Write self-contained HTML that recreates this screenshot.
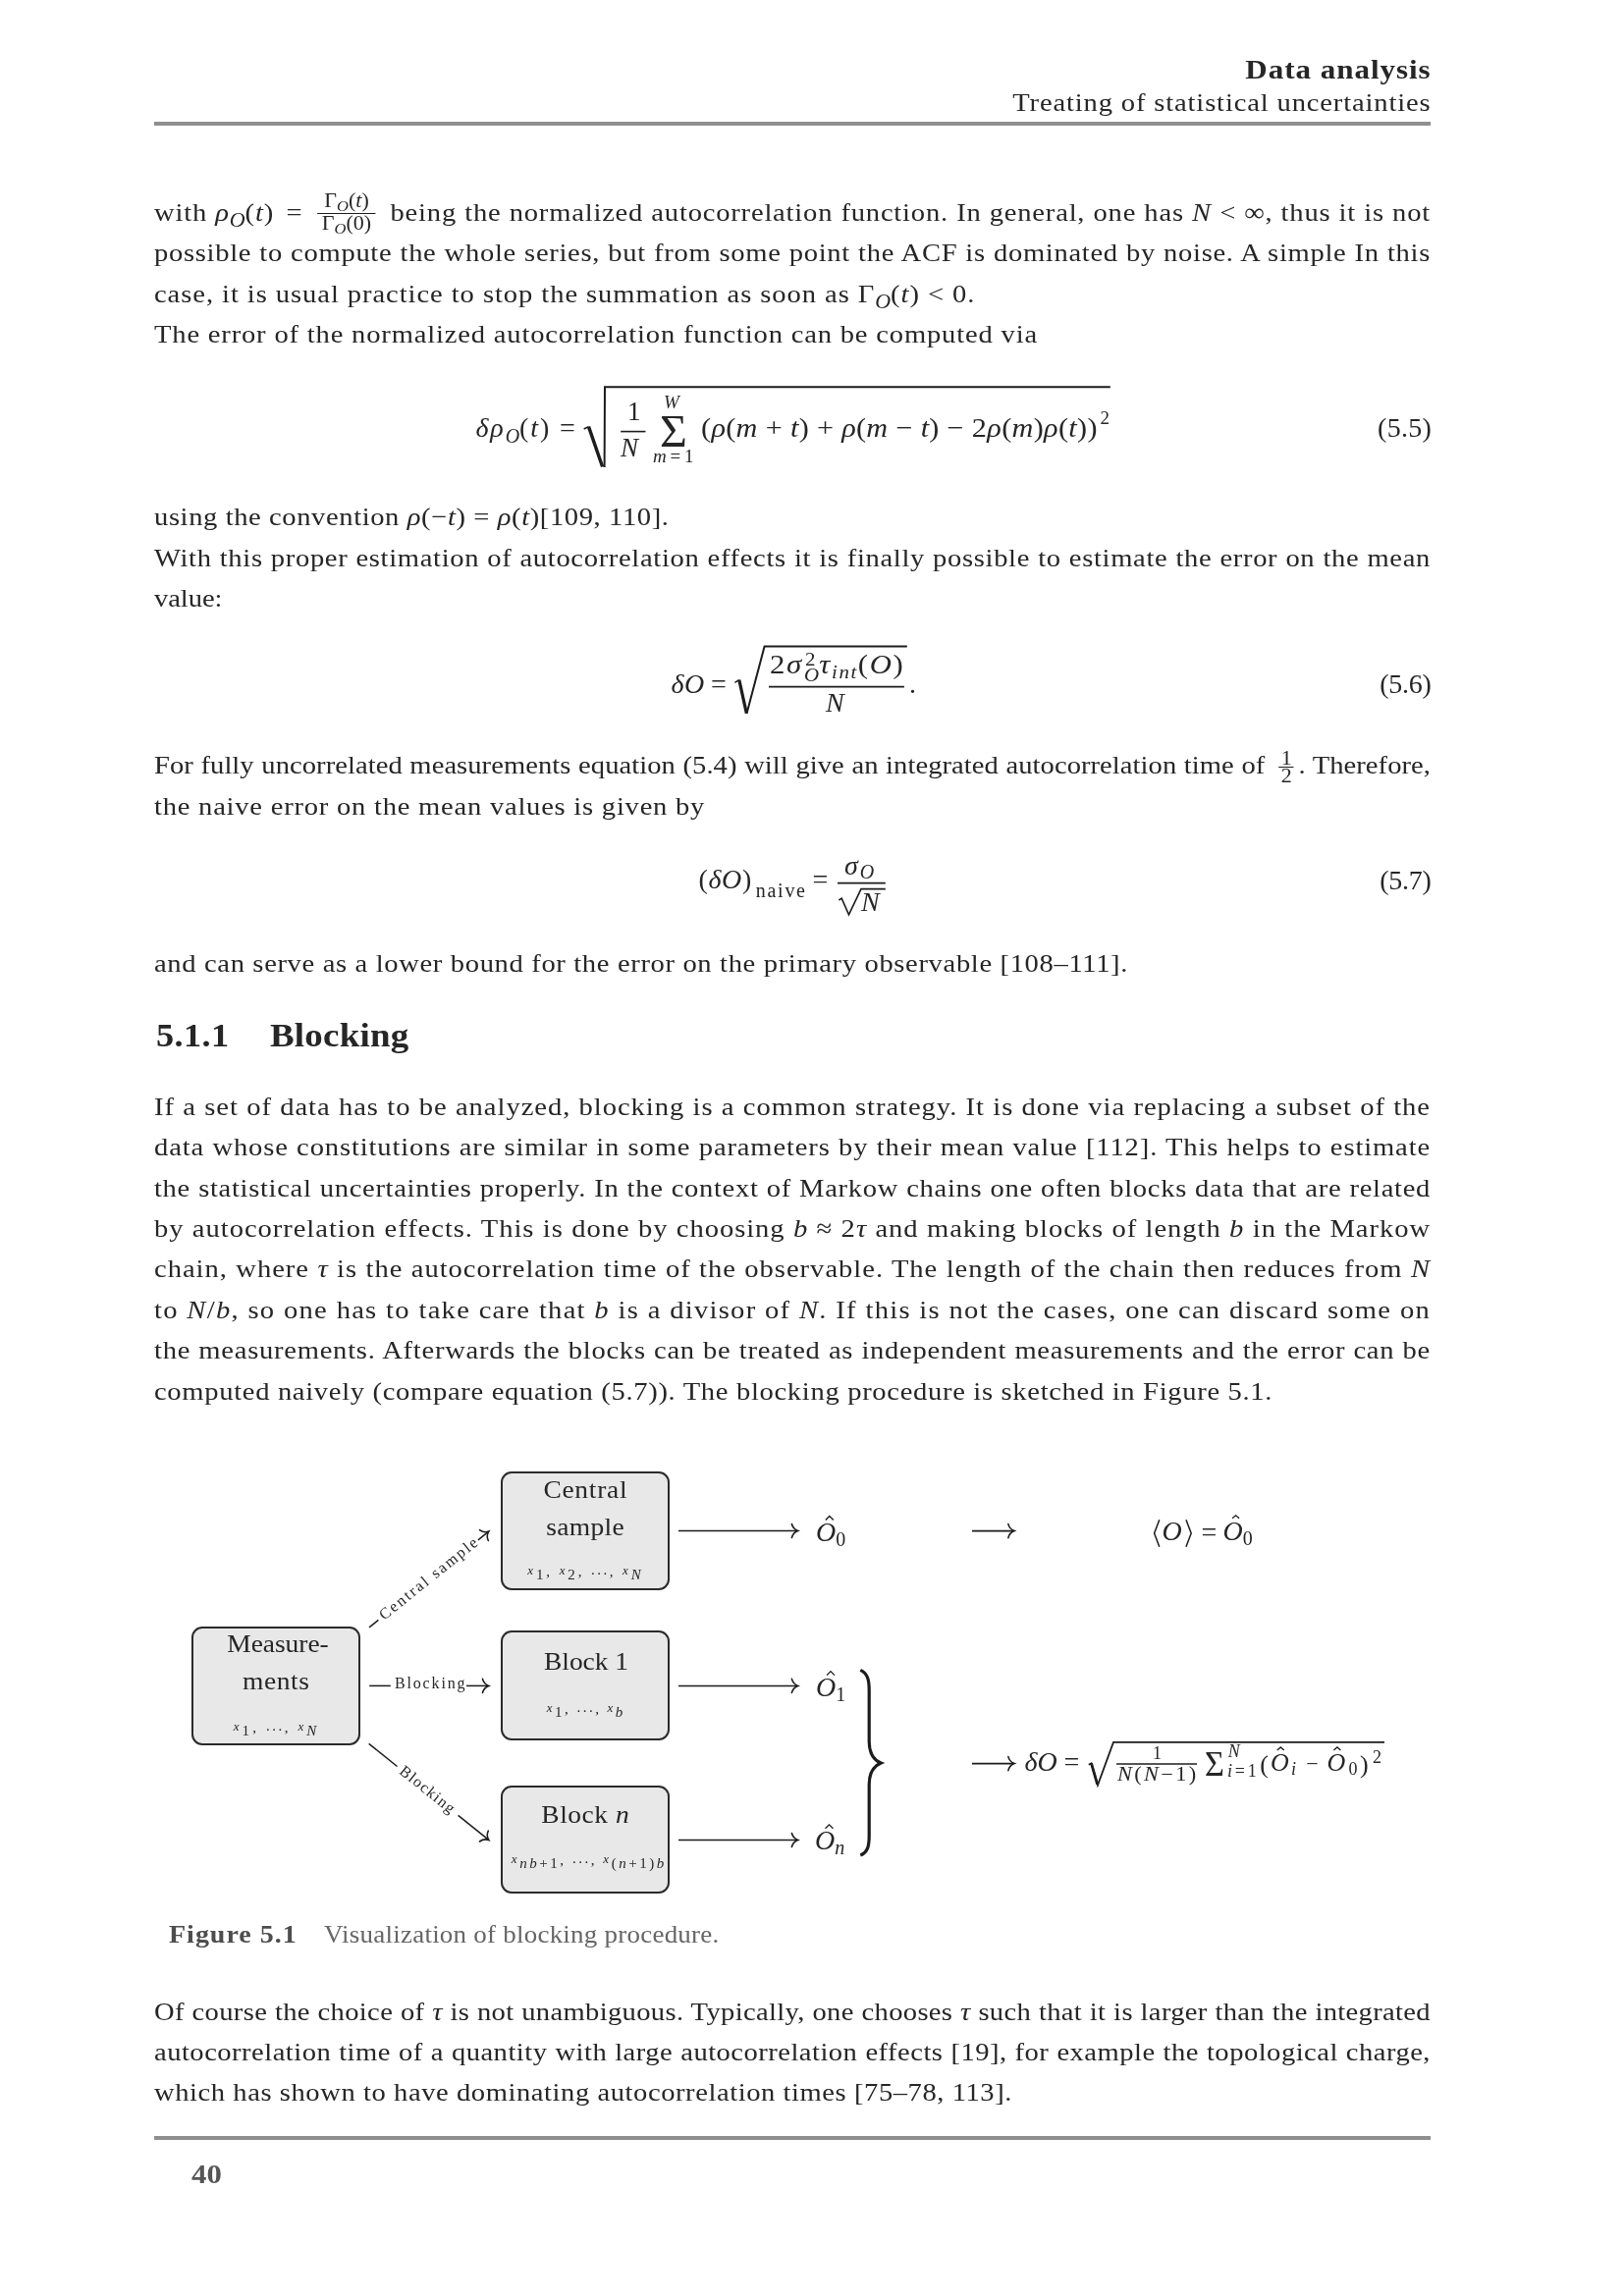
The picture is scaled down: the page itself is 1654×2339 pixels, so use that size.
<!DOCTYPE html><html><head><meta charset="utf-8"><style>
*{margin:0;padding:0}
html,body{background:#fff;width:1654px;height:2339px;overflow:hidden}
#pg{will-change:transform;position:relative;width:1654px;height:2339px;overflow:hidden;font-family:"Liberation Serif",serif;color:#262626}
.l{position:absolute;white-space:nowrap;line-height:0}
.j{white-space:normal;text-align:justify;text-align-last:justify}
i{font-style:italic}
.sb{font-size:20px;position:relative;top:6px;font-style:italic;letter-spacing:0}
.fr{display:inline-block;position:relative;height:0;vertical-align:baseline}
.fr>span{position:absolute;left:0;right:0;text-align:center;text-align-last:center;line-height:0;white-space:nowrap;letter-spacing:0}
.bar{position:absolute;left:0;right:0;background:#1c1c1c}
.box{position:absolute;box-sizing:border-box;border:2px solid #2b2b2b;border-radius:11px;background:#e8e8e8}
svg{position:absolute;left:0;top:0;overflow:visible}
</style></head><body><div id="pg">
<div class="l" id="e1" style="top:70.5px;right:197px;font-size:27px;letter-spacing:0.835px;margin-right:-0.835px;transform:scaleX(1.15);transform-origin:100% 0;"><b>Data analysis</b></div>
<div class="l" id="e2" style="top:105px;right:197px;font-size:26px;letter-spacing:0.761px;margin-right:-0.761px;transform:scaleX(1.1);transform-origin:100% 0;">Treating of statistical uncertainties</div>
<div style="position:absolute;left:157px;top:124px;width:1300px;height:4px;background:#8f8f8f"></div>
<div class="l j" id="e3" style="top:217px;left:157px;width:1181.82px;font-size:26px;letter-spacing:0.711px;transform:scaleX(1.1);transform-origin:0 0;">with <i>ρ</i><span class="sb">O</span>(<i>t</i>)<span style="margin-left:4px"> </span>= <span class="fr" style="width:54px;margin:0 6px 0 6px"><span style="top:-21px;font-size:20px">Γ<i style="font-size:15px;position:relative;top:4px">O</i>(<i>t</i>)</span><span class="bar" style="top:-8.2px;height:1.6px"></span><span style="top:2px;font-size:20px">Γ<i style="font-size:15px;position:relative;top:4px">O</i>(0)</span></span> being the normalized autocorrelation function. In general, one has <i>N</i> &lt; ∞, thus it is not</div>
<div class="l j" id="e4" style="top:258px;left:157px;width:1181.82px;font-size:26px;letter-spacing:0.624px;transform:scaleX(1.1);transform-origin:0 0;">possible to compute the whole series, but from some point the ACF is dominated by noise. A simple In this</div>
<div class="l" id="e5" style="top:299.8px;left:157px;font-size:26px;letter-spacing:0.835px;transform:scaleX(1.1);transform-origin:0 0;">case, it is usual practice to stop the summation as soon as Γ<span class="sb">O</span>(<i>t</i>) &lt; 0.</div>
<div class="l" id="e6" style="top:340.8px;left:157px;font-size:26px;letter-spacing:0.734px;transform:scaleX(1.1);transform-origin:0 0;">The error of the normalized autocorrelation function can be computed via</div>
<div class="l" id="e7" style="top:435.5px;left:484.4px;font-size:28px;letter-spacing:1.891px;"><i>δρ</i><span class="sb">O</span>(<i>t</i>) =</div>
<svg width="1654" height="2339"><path d="M594.7 437 L599.5 434.6" stroke="#1c1c1c" stroke-width="1.6" fill="none"/><path d="M599.5 434.6 L613.6 475.5" stroke="#1c1c1c" stroke-width="3.4" fill="none"/><path d="M615.6 476 L616 394.3 L1130.8 394.3" stroke="#1c1c1c" stroke-width="2" fill="none"/><path d="M632.2 439.6 L657.5 439.6" stroke="#1c1c1c" stroke-width="1.6" fill="none"/></svg>
<div class="l" id="e8" style="top:418.5px;left:639px;font-size:27px;">1</div>
<div class="l" id="e9" style="top:456.4px;left:632px;font-size:27px;"><i>N</i></div>
<div class="l" id="e10" style="top:438.8px;left:672px;font-size:47px;transform:scaleX(1.02);transform-origin:0 0">Σ</div>
<div class="l" id="e11" style="top:410px;left:676px;font-size:19px;"><i>W</i></div>
<div class="l" id="e12" style="top:465.4px;left:665px;font-size:19px;letter-spacing:3.773px;"><i>m</i>=1</div>
<div class="l" id="e13" style="top:435.5px;left:713.9px;font-size:28px;letter-spacing:0.289px;transform:scaleX(1.08);transform-origin:0 0;">(<i>ρ</i>(<i>m</i> + <i>t</i>) + <i>ρ</i>(<i>m</i> − <i>t</i>) − 2<i>ρ</i>(<i>m</i>)<i>ρ</i>(<i>t</i>))</div>
<div class="l" id="e14" style="top:426px;left:1120.5px;font-size:19px;">2</div>
<div class="l" id="e15" style="top:435.5px;right:196.1px;font-size:28px;letter-spacing:0.286px;margin-right:-0.286px;">(5.5)</div>
<div class="l" id="e16" style="top:526.7px;left:157px;font-size:26px;letter-spacing:0.532px;transform:scaleX(1.1);transform-origin:0 0;">using the convention <i>ρ</i>(−<i>t</i>) = <i>ρ</i>(<i>t</i>)[109, 110].</div>
<div class="l j" id="e17" style="top:568.5px;left:157px;width:1181.82px;font-size:26px;letter-spacing:0.593px;transform:scaleX(1.1);transform-origin:0 0;">With this proper estimation of autocorrelation effects it is finally possible to estimate the error on the mean</div>
<div class="l" id="e18" style="top:609.7px;left:157px;font-size:26px;letter-spacing:-0.069px;transform:scaleX(1.1);transform-origin:0 0;">value:</div>
<div class="l" id="e19" style="top:696.5px;left:683.4px;font-size:28px;letter-spacing:0.55px;"><i>δO</i></div>
<div class="l" id="e20" style="top:696.5px;left:724px;font-size:28px;">=</div>
<svg width="1654" height="2339"><path d="M748.4 695.4 L752.8 692.6" stroke="#1c1c1c" stroke-width="1.6" fill="none"/><path d="M752.8 692.6 L760.3 726.6" stroke="#1c1c1c" stroke-width="3.2" fill="none"/><path d="M760.5 727 L778.6 658.6 L923.8 658.6" stroke="#1c1c1c" stroke-width="2" fill="none"/><path d="M783 699.6 L920.9 699.6" stroke="#1c1c1c" stroke-width="1.6" fill="none"/></svg>
<div class="l" id="e21" style="top:677.2px;left:784px;font-size:28px;letter-spacing:1.463px;transform:scaleX(1.1);transform-origin:0 0;">2<i>σ</i><span style="display:inline-block;position:relative;width:15px;height:0"><span style="position:absolute;left:2px;top:-14px;font-size:19px;letter-spacing:0">2</span><i style="position:absolute;left:1px;top:2px;font-size:19px;letter-spacing:0">O</i></span><i>τ</i><i style="font-size:19px;position:relative;top:5px">int</i>(<i>O</i>)</div>
<div class="l" id="e22" style="top:716.3px;left:841px;font-size:28px;"><i>N</i></div>
<div class="l" id="e23" style="top:696.5px;left:926px;font-size:28px;">.</div>
<div class="l" id="e24" style="top:696.5px;right:196.1px;font-size:28px;letter-spacing:-0.239px;margin-right:0.239px;">(5.6)</div>
<div class="l j" id="e25" style="top:779.8px;left:157px;width:1181.82px;font-size:26px;letter-spacing:0.038px;transform:scaleX(1.1);transform-origin:0 0;">For fully uncorrelated measurements equation (5.4) will give an integrated autocorrelation time of <span class="fr" style="width:14px;margin:0 4px 0 6px"><span style="top:-16.3px;font-size:20px">1</span><span class="bar" style="top:-6.8px;height:1.4px"></span><span style="top:2.6px;font-size:20px">2</span></span>. Therefore,</div>
<div class="l" id="e26" style="top:821.6px;left:157px;font-size:26px;letter-spacing:0.684px;transform:scaleX(1.1);transform-origin:0 0;">the naive error on the mean values is given by</div>
<div class="l" id="e27" style="top:895.7px;left:711.5px;font-size:28px;letter-spacing:0.598px;">(<i>δO</i>)</div>
<div class="l" id="e28" style="top:906.5px;left:769.8px;font-size:20px;letter-spacing:1.722px;">naive</div>
<div class="l" id="e29" style="top:895.7px;left:827.5px;font-size:28px;">=</div>
<div class="l" id="e30" style="top:882px;left:860px;font-size:28px;"><i>σ</i><i style="font-size:20px;position:relative;top:4px;margin-left:2px">O</i></div>
<svg width="1654" height="2339"><path d="M853 899.6 L901.8 899.6" stroke="#1c1c1c" stroke-width="1.6" fill="none"/><path d="M854.4 917 L857.2 915.2 L864.5 931.8 L877 905.6 L901.8 905.6" stroke="#1c1c1c" stroke-width="1.6" fill="none"/></svg>
<div class="l" id="e31" style="top:918.7px;left:877px;font-size:28px;"><i>N</i></div>
<div class="l" id="e32" style="top:897px;right:196.1px;font-size:28px;letter-spacing:-0.239px;margin-right:0.239px;">(5.7)</div>
<div class="l" id="e33" style="top:982.1px;left:157px;font-size:26px;letter-spacing:0.578px;transform:scaleX(1.1);transform-origin:0 0;">and can serve as a lower bound for the error on the primary observable [108–111].</div>
<div class="l" id="e34" style="top:1054.9px;left:158.6px;font-size:33px;letter-spacing:0.378px;transform:scaleX(1.1);transform-origin:0 0;"><b>5.1.1</b></div>
<div class="l" id="e35" style="top:1054.9px;left:275px;font-size:33px;letter-spacing:0.193px;transform:scaleX(1.12);transform-origin:0 0;"><b>Blocking</b></div>
<div class="l j" id="e36" style="top:1128px;left:157px;width:1181.82px;font-size:26px;letter-spacing:0.861px;transform:scaleX(1.1);transform-origin:0 0;">If a set of data has to be analyzed, blocking is a common strategy. It is done via replacing a subset of the</div>
<div class="l j" id="e37" style="top:1168.7px;left:157px;width:1181.82px;font-size:26px;letter-spacing:0.779px;transform:scaleX(1.1);transform-origin:0 0;">data whose constitutions are similar in some parameters by their mean value [112]. This helps to estimate</div>
<div class="l j" id="e38" style="top:1210.5px;left:157px;width:1181.82px;font-size:26px;letter-spacing:0.614px;transform:scaleX(1.1);transform-origin:0 0;">the statistical uncertainties properly. In the context of Markow chains one often blocks data that are related</div>
<div class="l j" id="e39" style="top:1251.6px;left:157px;width:1181.82px;font-size:26px;letter-spacing:0.861px;transform:scaleX(1.1);transform-origin:0 0;">by autocorrelation effects. This is done by choosing <i>b</i> ≈ 2<i>τ</i> and making blocks of length <i>b</i> in the Markow</div>
<div class="l j" id="e40" style="top:1293.4px;left:157px;width:1181.82px;font-size:26px;letter-spacing:0.882px;transform:scaleX(1.1);transform-origin:0 0;">chain, where <i>τ</i> is the autocorrelation time of the observable. The length of the chain then reduces from <i>N</i></div>
<div class="l j" id="e41" style="top:1334.6px;left:157px;width:1181.82px;font-size:26px;letter-spacing:1.137px;transform:scaleX(1.1);transform-origin:0 0;">to <i>N</i>/<i>b</i>, so one has to take care that <i>b</i> is a divisor of <i>N</i>. If this is not the cases, one can discard some on</div>
<div class="l j" id="e42" style="top:1376.3px;left:157px;width:1181.82px;font-size:26px;letter-spacing:0.661px;transform:scaleX(1.1);transform-origin:0 0;">the measurements. Afterwards the blocks can be treated as independent measurements and the error can be</div>
<div class="l" id="e43" style="top:1417.8px;left:157px;font-size:26px;letter-spacing:0.604px;transform:scaleX(1.1);transform-origin:0 0;">computed naively (compare equation (5.7)). The blocking procedure is sketched in Figure 5.1.</div>
<div class="box" style="left:510px;top:1499px;width:172px;height:121px"></div>
<div class="box" style="left:195px;top:1657px;width:172px;height:121px"></div>
<div class="box" style="left:510px;top:1661px;width:172px;height:112px"></div>
<div class="box" style="left:510px;top:1819px;width:172px;height:110px"></div>
<div class="l" style="top:1518px;left:296.20000000000005px;width:600px;text-align:center;font-size:25px;transform:scaleX(1.1);transform-origin:50% 0;"><span id="e44" style="letter-spacing:0.634px;margin-right:-0.634px">Central</span></div>
<div class="l" style="top:1555.7px;left:295.79999999999995px;width:600px;text-align:center;font-size:25px;transform:scaleX(1.1);transform-origin:50% 0;"><span id="e45" style="letter-spacing:0.266px;margin-right:-0.266px">sample</span></div>
<div class="l" style="top:1674.9px;left:-16.69999999999999px;width:600px;text-align:center;font-size:25px;transform:scaleX(1.1);transform-origin:50% 0;"><span id="e46" style="letter-spacing:-0.044px;margin-right:0.044px">Measure-</span></div>
<div class="l" style="top:1712.6px;left:-18.80000000000001px;width:600px;text-align:center;font-size:25px;transform:scaleX(1.1);transform-origin:50% 0;"><span id="e47" style="letter-spacing:0.491px;margin-right:-0.491px">ments</span></div>
<div class="l" style="top:1693.3px;left:296.9px;width:600px;text-align:center;font-size:25px;transform:scaleX(1.1);transform-origin:50% 0;"><span id="e48" style="letter-spacing:-0.062px;margin-right:0.062px">Block 1</span></div>
<div class="l" style="top:1849.3px;left:296.20000000000005px;width:600px;text-align:center;font-size:25px;transform:scaleX(1.1);transform-origin:50% 0;"><span id="e49" style="letter-spacing:0.475px;margin-right:-0.475px">Block <i>n</i></span></div>
<div class="l" style="top:1599.2px;left:295px;width:600px;text-align:center;font-size:15px;"><span id="e50" style="letter-spacing:2.899px;margin-right:-2.899px"><i style="font-size:13px">x</i><i style="font-size:15px;position:relative;top:5px"><span style="font-style:normal">1</span></i><span style="font-size:15px;position:relative;top:2px">, </span><i style="font-size:13px">x</i><i style="font-size:15px;position:relative;top:5px"><span style="font-style:normal">2</span></i><span style="font-size:15px;position:relative;top:2px">, </span><span style="font-size:15px;letter-spacing:2.5px">...</span><span style="font-size:15px;position:relative;top:2px">, </span><i style="font-size:13px">x</i><i style="font-size:15px;position:relative;top:5px">N</i></span></div>
<div class="l" style="top:1758px;left:-20px;width:600px;text-align:center;font-size:15px;"><span id="e51" style="letter-spacing:3.096px;margin-right:-3.096px"><i style="font-size:13px">x</i><i style="font-size:15px;position:relative;top:5px"><span style="font-style:normal">1</span></i><span style="font-size:15px;position:relative;top:2px">, </span><span style="font-size:15px;letter-spacing:2.5px">...</span><span style="font-size:15px;position:relative;top:2px">, </span><i style="font-size:13px">x</i><i style="font-size:15px;position:relative;top:5px">N</i></span></div>
<div class="l" style="top:1738.5px;left:295.6px;width:600px;text-align:center;font-size:15px;"><span id="e52" style="letter-spacing:2.455px;margin-right:-2.455px"><i style="font-size:13px">x</i><i style="font-size:15px;position:relative;top:5px"><span style="font-style:normal">1</span></i><span style="font-size:15px;position:relative;top:2px">, </span><span style="font-size:15px;letter-spacing:2.5px">...</span><span style="font-size:15px;position:relative;top:2px">, </span><i style="font-size:13px">x</i><i style="font-size:15px;position:relative;top:5px">b</i></span></div>
<div class="l" style="top:1893.2px;left:298.6px;width:600px;text-align:center;font-size:15px;"><span id="e53" style="letter-spacing:2.55px;margin-right:-2.55px"><i style="font-size:13px">x</i><i style="font-size:15px;position:relative;top:5px">nb<span style="font-style:normal">+1</span></i><span style="font-size:15px;position:relative;top:2px">, </span><span style="font-size:15px;letter-spacing:2.5px">...</span><span style="font-size:15px;position:relative;top:2px">, </span><i style="font-size:13px">x</i><i style="font-size:15px;position:relative;top:5px"><span style="font-style:normal">(</span>n<span style="font-style:normal">+1)</span>b</i></span></div>
<svg width="1654" height="2339"><path d="M691.0 1559.5 L812.0 1559.5" stroke="#1c1c1c" stroke-width="1.5" fill="none"/><path d="M806.4 1552.5 Q807.7 1557.7 812.7 1559.5 Q807.7 1561.3 806.4 1566.5" stroke="#1c1c1c" stroke-width="1.6" fill="none" stroke-linecap="round"/><path d="M691.0 1717.4 L812.0 1717.4" stroke="#1c1c1c" stroke-width="1.5" fill="none"/><path d="M806.4 1710.4 Q807.7 1715.6 812.7 1717.4 Q807.7 1719.2 806.4 1724.4" stroke="#1c1c1c" stroke-width="1.6" fill="none" stroke-linecap="round"/><path d="M691.0 1874.5 L812.0 1874.5" stroke="#1c1c1c" stroke-width="1.5" fill="none"/><path d="M806.4 1867.5 Q807.7 1872.7 812.7 1874.5 Q807.7 1876.3 806.4 1881.5" stroke="#1c1c1c" stroke-width="1.6" fill="none" stroke-linecap="round"/><path d="M376.2 1717.4 L397.8 1717.4" stroke="#1c1c1c" stroke-width="1.5" fill="none"/><path d="M475.0 1717.4 L497.0 1717.4" stroke="#1c1c1c" stroke-width="1.5" fill="none"/><path d="M491.5 1710.4 Q492.8 1715.6 497.8 1717.4 Q492.8 1719.2 491.5 1724.4" stroke="#1c1c1c" stroke-width="1.6" fill="none" stroke-linecap="round"/><path d="M376.0 1657.8 L385.4 1650.3" stroke="#1c1c1c" stroke-width="1.5" fill="none"/><path d="M486.9 1568.9 L497.4 1560.4" stroke="#1c1c1c" stroke-width="1.5" fill="none"/><path d="M488.5 1558.6 Q492.8 1561.8 497.8 1560.1 Q495.0 1564.6 497.3 1569.5" stroke="#1c1c1c" stroke-width="1.6" fill="none" stroke-linecap="round"/><path d="M375.7 1776.3 L404.5 1799.5" stroke="#1c1c1c" stroke-width="1.5" fill="none"/><path d="M466.6 1849.4 L497.4 1874.2" stroke="#1c1c1c" stroke-width="1.5" fill="none"/><path d="M497.3 1865.1 Q495.0 1870.0 497.8 1874.5 Q492.8 1872.8 488.5 1876.0" stroke="#1c1c1c" stroke-width="1.6" fill="none" stroke-linecap="round"/><path d="M990.0 1559.6 L1032.0 1559.6" stroke="#1c1c1c" stroke-width="1.6" fill="none"/><path d="M1026.9 1552.6 Q1028.2 1557.8 1033.2 1559.6 Q1028.2 1561.4 1026.9 1566.6" stroke="#1c1c1c" stroke-width="1.6" fill="none" stroke-linecap="round"/><path d="M990.0 1796.6 L1032.0 1796.6" stroke="#1c1c1c" stroke-width="1.6" fill="none"/><path d="M1026.9 1789.6 Q1028.2 1794.8 1033.2 1796.6 Q1028.2 1798.4 1026.9 1803.6" stroke="#1c1c1c" stroke-width="1.6" fill="none" stroke-linecap="round"/><path d="M876.3 1701.4 C884 1705 885.2 1712 885.2 1722 L885.2 1774 C885.2 1786 890 1793 897.2 1796 C890 1799 885.2 1806 885.2 1818 L885.2 1870 C885.2 1880 884 1887 876.3 1890" stroke="#1c1c1c" stroke-width="3.2" fill="none"/><path d="M1108.8 1797.8 L1111.5 1796.4 L1118 1818.6 L1134 1774.8 L1410 1774.8" stroke="#1c1c1c" stroke-width="1.8" fill="none"/><path d="M1111.5 1796.4 L1117.6 1817.6" stroke="#1c1c1c" stroke-width="2.8" fill="none"/><path d="M1137.1 1797 L1219 1797" stroke="#1c1c1c" stroke-width="1.6" fill="none"/><path d="M840.8 1548.5 L844.8 1544.5 L848.8 1548.5" stroke="#1c1c1c" stroke-width="1.3" fill="none"/><path d="M842.0 1706.6 L846.0 1702.6 L850.0 1706.6" stroke="#1c1c1c" stroke-width="1.3" fill="none"/><path d="M840.5 1862.8 L844.5 1858.8 L848.5 1862.8" stroke="#1c1c1c" stroke-width="1.3" fill="none"/><path d="M1255.1 1546.8 L1258.6 1543.8 L1262.1 1546.8" stroke="#1c1c1c" stroke-width="1.3" fill="none"/><path d="M1300.8 1782.9 L1304.3 1779.9 L1307.8 1782.9" stroke="#1c1c1c" stroke-width="1.3" fill="none"/><path d="M1358.4 1782.9 L1361.9 1779.9 L1365.4 1782.9" stroke="#1c1c1c" stroke-width="1.3" fill="none"/><path d="M1180.8 1548.2 L1175.6 1562 L1180.8 1575.8 M1208 1548.2 L1213.2 1562 L1208 1575.8" stroke="#1c1c1c" stroke-width="1.5" fill="none"/></svg>
<div class="l" style="left:387.54px;top:1646.62px;font-size:16px;letter-spacing:2.1px;transform:rotate(-38.73deg);transform-origin:0 0">Central sample</div>
<div class="l" style="left:409.06px;top:1801.84px;font-size:16px;letter-spacing:1.2px;transform:rotate(38.81deg);transform-origin:0 0">Blocking</div>
<div class="l" id="e54" style="top:1715px;left:402px;font-size:16px;letter-spacing:1.833px;">Blocking</div>
<div class="l" style="top:1560.5px;left:831px;font-size:28px"><i>O</i><span style="font-size:20px;position:relative;top:5px">0</span></div>
<div class="l" style="top:1718.6px;left:831px;font-size:28px"><i>O</i><span style="font-size:20px;position:relative;top:5px">1</span></div>
<div class="l" style="top:1874.8px;left:830px;font-size:28px"><i>O</i><i style="font-size:20px;position:relative;top:5px">n</i></div>
<div class="l" id="e55" style="top:1560px;left:1183.5px;font-size:28px;"><i>O</i></div>
<div class="l" id="e56" style="top:1560.5px;left:1223.5px;font-size:28px;">=</div>
<div class="l" style="top:1560px;left:1245.5px;font-size:28px"><i>O</i><span style="font-size:20px;position:relative;top:5px">0</span></div>
<div class="l" id="e57" style="top:1794.8px;left:1043.5px;font-size:28px;letter-spacing:-0.116px;"><i>δO</i> =</div>
<div class="l" id="e58" style="top:1785.5px;left:1174px;font-size:18px;">1</div>
<div class="l" id="e59" style="top:1806.6px;left:1138px;font-size:20px;letter-spacing:2.068px;transform:scaleX(1.12);transform-origin:0 0;"><i>N</i>(<i>N</i>−1)</div>
<div class="l" id="e60" style="top:1797px;left:1226.5px;font-size:36px;transform:scaleX(0.95);transform-origin:0 0">Σ</div>
<div class="l" id="e61" style="top:1784px;left:1250.8px;font-size:18px;"><i>N</i></div>
<div class="l" id="e62" style="top:1803.7px;left:1250.1px;font-size:18px;letter-spacing:2.764px;"><i>i</i>=1</div>
<div class="l" id="e63" style="top:1798px;left:1283.3px;font-size:26px;">(</div>
<div class="l" id="e64" style="top:1796.3px;left:1294px;font-size:26px;"><i>O</i></div>
<div class="l" id="e65" style="top:1801.7px;left:1315px;font-size:18px;"><i>i</i></div>
<div class="l" id="e66" style="top:1797.3px;left:1330.2px;font-size:22px;">−</div>
<div class="l" id="e67" style="top:1796.3px;left:1351.6px;font-size:26px;"><i>O</i></div>
<div class="l" id="e68" style="top:1802.2px;left:1373.5px;font-size:18px;">0</div>
<div class="l" id="e69" style="top:1798px;left:1385px;font-size:26px;">)</div>
<div class="l" id="e70" style="top:1789.5px;left:1398px;font-size:18px;">2</div>
<div class="l" id="e71" style="top:1971px;left:171.6px;font-size:25px;letter-spacing:0.89px;transform:scaleX(1.12);transform-origin:0 0;color:#4d4d4d"><b>Figure 5.1</b></div>
<div class="l" id="e72" style="top:1971px;left:330.2px;font-size:25px;letter-spacing:0.212px;transform:scaleX(1.08);transform-origin:0 0;color:#666">Visualization of blocking procedure.</div>
<div class="l j" id="e73" style="top:2050px;left:157px;width:1181.82px;font-size:26px;letter-spacing:0.294px;transform:scaleX(1.1);transform-origin:0 0;">Of course the choice of <i>τ</i> is not unambiguous. Typically, one chooses <i>τ</i> such that it is larger than the integrated</div>
<div class="l j" id="e74" style="top:2091.2px;left:157px;width:1181.82px;font-size:26px;letter-spacing:0.429px;transform:scaleX(1.1);transform-origin:0 0;">autocorrelation time of a quantity with large autocorrelation effects [19], for example the topological charge,</div>
<div class="l" id="e75" style="top:2132.4px;left:157px;font-size:26px;letter-spacing:0.502px;transform:scaleX(1.1);transform-origin:0 0;">which has shown to have dominating autocorrelation times [75–78, 113].</div>
<div style="position:absolute;left:157px;top:2176px;width:1300px;height:4px;background:#8f8f8f"></div>
<div class="l" id="e76" style="top:2215.1px;left:194.6px;font-size:28px;letter-spacing:0.083px;transform:scaleX(1.1);transform-origin:0 0;color:#555"><b>40</b></div>
</div></body></html>
